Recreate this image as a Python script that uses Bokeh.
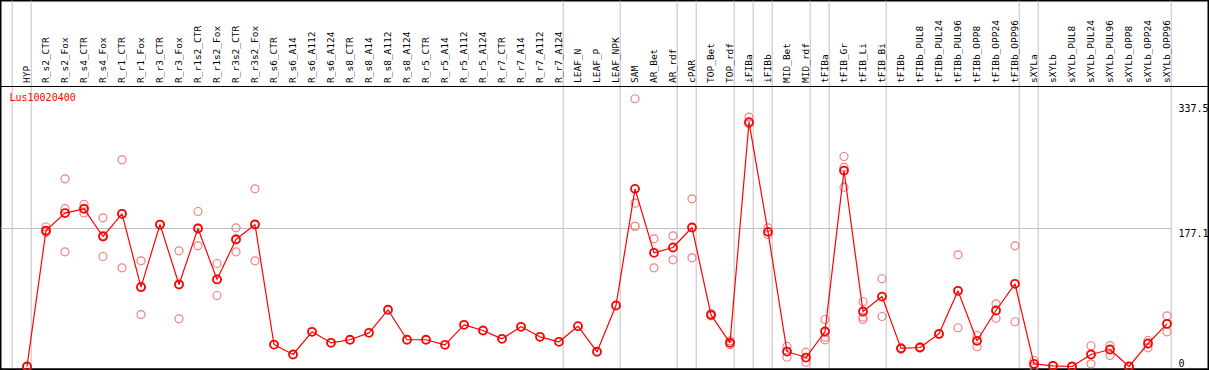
import math
from bokeh.plotting import figure
from bokeh.models import Range1d, ColumnDataSource
from bokeh.core.properties import value
from bokeh.embed import file_html
from bokeh.resources import INLINE

gene = "Lus10020400"

categories = [
    "HYP", "R_s2_CTR", "R_s2_Fox", "R_s4_CTR", "R_s4_Fox", "R_r1_CTR", "R_r1_Fox",
    "R_r3_CTR", "R_r3_Fox", "R_r1s2_CTR", "R_r1s2_Fox", "R_r3s2_CTR", "R_r3s2_Fox",
    "R_s6_CTR", "R_s6_A14", "R_s6_A112", "R_s6_A124", "R_s8_CTR", "R_s8_A14",
    "R_s8_A112", "R_s8_A124", "R_r5_CTR", "R_r5_A14", "R_r5_A112", "R_r5_A124",
    "R_r7_CTR", "R_r7_A14", "R_r7_A112", "R_r7_A124", "LEAF_N", "LEAF_P", "LEAF_NPK",
    "SAM", "AR_Bet", "AR_rdf", "cPAR", "TOP_Bet", "TOP_rdf", "iFIBa", "iFIBb",
    "MID_Bet", "MID_rdf", "tFIBa", "tFIB_Gr", "tFIB_Li", "tFIB_Bi", "tFIBb",
    "tFIBb_PUL8", "tFIBb_PUL24", "tFIBb_PUL96", "tFIBb_OPP8", "tFIBb_OPP24",
    "tFIBb_OPP96", "sXYLa", "sXYLb", "sXYLb_PUL8", "sXYLb_PUL24", "sXYLb_PUL96",
    "sXYLb_OPP8", "sXYLb_OPP24", "sXYLb_OPP96",
]

means = [
    0.0, 174.5, 196.9, 202.4, 166.8, 196.0, 101.8, 182.2, 105.2, 177.1, 111.7, 163.0, 182.2,
    28.2, 15.4, 44.5, 30.4, 34.3, 43.2, 72.8, 34.3, 34.3, 27.8, 53.5, 46.2, 35.5, 50.9,
    38.1, 31.7, 51.7, 18.9, 78.3, 228.0, 145.9, 152.7, 178.4, 66.3, 30.4, 313.5, 172.8,
    19.2, 11.5, 44.9, 251.5, 70.6, 89.8, 23.3, 24.4, 41.9, 97.1, 33.0, 71.9, 106.1,
    3.4, 0.9, 0.0, 15.4, 21.8, 0.0, 29.5, 54.8,
]

rep_cat = (
    ["HYP"] * 2 + ["R_s2_CTR"] * 3 + ["R_s2_Fox"] * 3 + ["R_s4_CTR"] * 3 + ["R_s4_Fox"] * 3
    + ["R_r1_CTR"] * 3 + ["R_r1_Fox"] * 3 + ["R_r3_CTR"] * 2 + ["R_r3_Fox"] * 3
    + ["R_r1s2_CTR"] * 3 + ["R_r1s2_Fox"] * 3 + ["R_r3s2_CTR"] * 3 + ["R_r3s2_Fox"] * 3
    + ["SAM"] * 4 + ["AR_Bet"] * 2 + ["AR_rdf"] * 2 + ["cPAR"] * 2 + ["TOP_Bet"] * 2
    + ["TOP_rdf"] * 2 + ["iFIBa"] * 2 + ["iFIBb"] * 2 + ["MID_Bet"] * 2 + ["MID_rdf"] * 2
    + ["tFIBa"] * 3 + ["tFIB_Gr"] * 3 + ["tFIB_Li"] * 3 + ["tFIB_Bi"] * 2 + ["tFIBb"] * 2
    + ["tFIBb_PUL8"] * 2 + ["tFIBb_PUL24"] * 2 + ["tFIBb_PUL96"] * 2 + ["tFIBb_OPP8"] * 2
    + ["tFIBb_OPP24"] * 2 + ["tFIBb_OPP96"] * 2 + ["sXYLa"] * 2 + ["sXYLb"] * 2
    + ["sXYLb_PUL8"] * 2 + ["sXYLb_PUL24"] * 2 + ["sXYLb_PUL96"] * 2 + ["sXYLb_OPP8"] * 2
    + ["sXYLb_OPP24"] * 2 + ["sXYLb_OPP96"] * 2
)
rep_val = [
    0.0, 0.0,
    179.0, 172.0, 173.0,
    240.9, 147.2, 202.6,
    208.0, 197.0, 203.0,
    190.8, 141.2, 168.4,
    265.3, 126.7, 196.0,
    135.6, 66.7, 103.0,
    182.0, 182.0,
    148.5, 61.2, 105.9,
    198.9, 154.9, 177.5,
    132.2, 91.1, 111.8,
    178.0, 147.2, 163.8,
    228.0, 135.6, 183.0,
    343.6, 209.6, 180.0, 180.0,
    163.9, 126.7,
    167.7, 136.9,
    215.2, 139.5,
    68.0, 65.0,
    33.0, 28.0,
    320.0, 311.5,
    178.0, 169.4,
    25.7, 11.9,
    18.4, 5.5,
    60.3, 37.6, 34.2,
    269.5, 255.8, 230.1,
    83.4, 63.3, 60.3,
    112.6, 64.2,
    24.0, 22.0,
    25.0, 24.0,
    42.0, 41.0,
    143.3, 49.7,
    39.8, 25.3,
    80.4, 62.0,
    154.9, 57.4,
    7.7, 0.0,
    1.0, 0.5,
    0.0, 0.0,
    26.6, 3.4,
    26.9, 14.1,
    0.0, 0.0,
    33.4, 24.0,
    65.0, 44.5,
]

group_ends = ["HYP", "R_r7_A124", "LEAF_NPK", "AR_rdf", "cPAR", "TOP_rdf", "iFIBa",
              "iFIBb", "MID_rdf", "tFIBa", "tFIB_Bi", "tFIBb_OPP96", "sXYLa", "sXYLb_OPP96"]

y_ticks = [0.0, 177.1, 337.5]
y_tick_labels = ["0", "177.1", "337.5"]

# ---- layout (reference pixel geometry) ----
REF_W, REF_H = 1209, 370
X0, DX = 26.5, 19.0        # first category centre, spacing
Y0, K = 366.0, 0.7792      # y pixel of value 0, px per unit

def xv(px):
    return (px - X0) / DX

def yv(py):
    return (Y0 - py) / K

idx = {c: i for i, c in enumerate(categories)}
xs = list(range(len(categories)))

p = figure(width=REF_W, height=REF_H, output_backend="svg", toolbar_location=None,
           x_range=Range1d(xv(0), xv(REF_W)), y_range=Range1d(yv(REF_H), yv(0)),
           x_axis_location=None, y_axis_location=None, min_border=0,
           background_fill_color="white", border_fill_color="white")
p.grid.visible = False
p.outline_line_color = "black"
p.outline_line_width = 2

ytop, ybot = yv(0), yv(REF_H - 2)
OFF = 0.22
sep_x = [-1 + OFF] + [idx[c] + OFF for c in group_ends]
p.segment(x0=sep_x, x1=sep_x, y0=[ybot] * len(sep_x), y1=[ytop] * len(sep_x),
          line_color="#c0c0c0", line_width=1)

# middle grid line
p.segment(x0=[xv(0)], x1=[idx[group_ends[-1]] + OFF], y0=[y_ticks[1]], y1=[y_ticks[1]],
          line_color="#c0c0c0", line_width=1)

# header separator and bottom line
p.segment(x0=[xv(0), xv(0)], x1=[xv(REF_W), xv(REF_W)], y0=[yv(86), yv(368.5)],
          y1=[yv(86), yv(368.5)], line_color="black", line_width=1.2)

# replicates
rep_src = ColumnDataSource(dict(x=[idx[c] for c in rep_cat], y=rep_val))
p.scatter("x", "y", source=rep_src, marker="circle", size=8, fill_color=None,
          line_color="#f08080", line_width=1.2)

# mean line + markers
src = ColumnDataSource(dict(x=xs, y=means))
p.line("x", "y", source=src, line_color="red", line_width=1.2)
p.scatter("x", "y", source=src, marker="circle", size=8, fill_color=None,
          line_color="red", line_width=1.8)

# category labels (rotated)
lab_src = ColumnDataSource(dict(x=[i - 0.05 for i in xs], y=[yv(82.5)] * len(xs), t=categories))
p.text("x", "y", text="t", source=lab_src, angle=math.pi / 2, text_align="left",
       text_baseline="middle", text_font=value("DejaVu Sans Mono"),
       text_font_size=value("9.5px"), text_color="black")

# tick labels on the right
tx = xv(1178)
p.text(x=[tx, tx], y=y_ticks[1:], text=y_tick_labels[1:], text_align="left",
       text_baseline="top", text_font=value("DejaVu Sans Mono"),
       text_font_size=value("10px"), text_color="black")
p.text(x=[tx], y=y_ticks[:1], text=y_tick_labels[:1], text_align="left",
       text_baseline="bottom", text_font=value("DejaVu Sans Mono"),
       text_font_size=value("10px"), text_color="black")

# gene title
p.text(x=[xv(9)], y=[yv(97)], text=[gene], text_align="left", text_baseline="middle",
       text_font=value("DejaVu Sans Mono"), text_font_size=value("10px"), text_color="red")

open("out.html", "w").write(file_html(p, INLINE))
